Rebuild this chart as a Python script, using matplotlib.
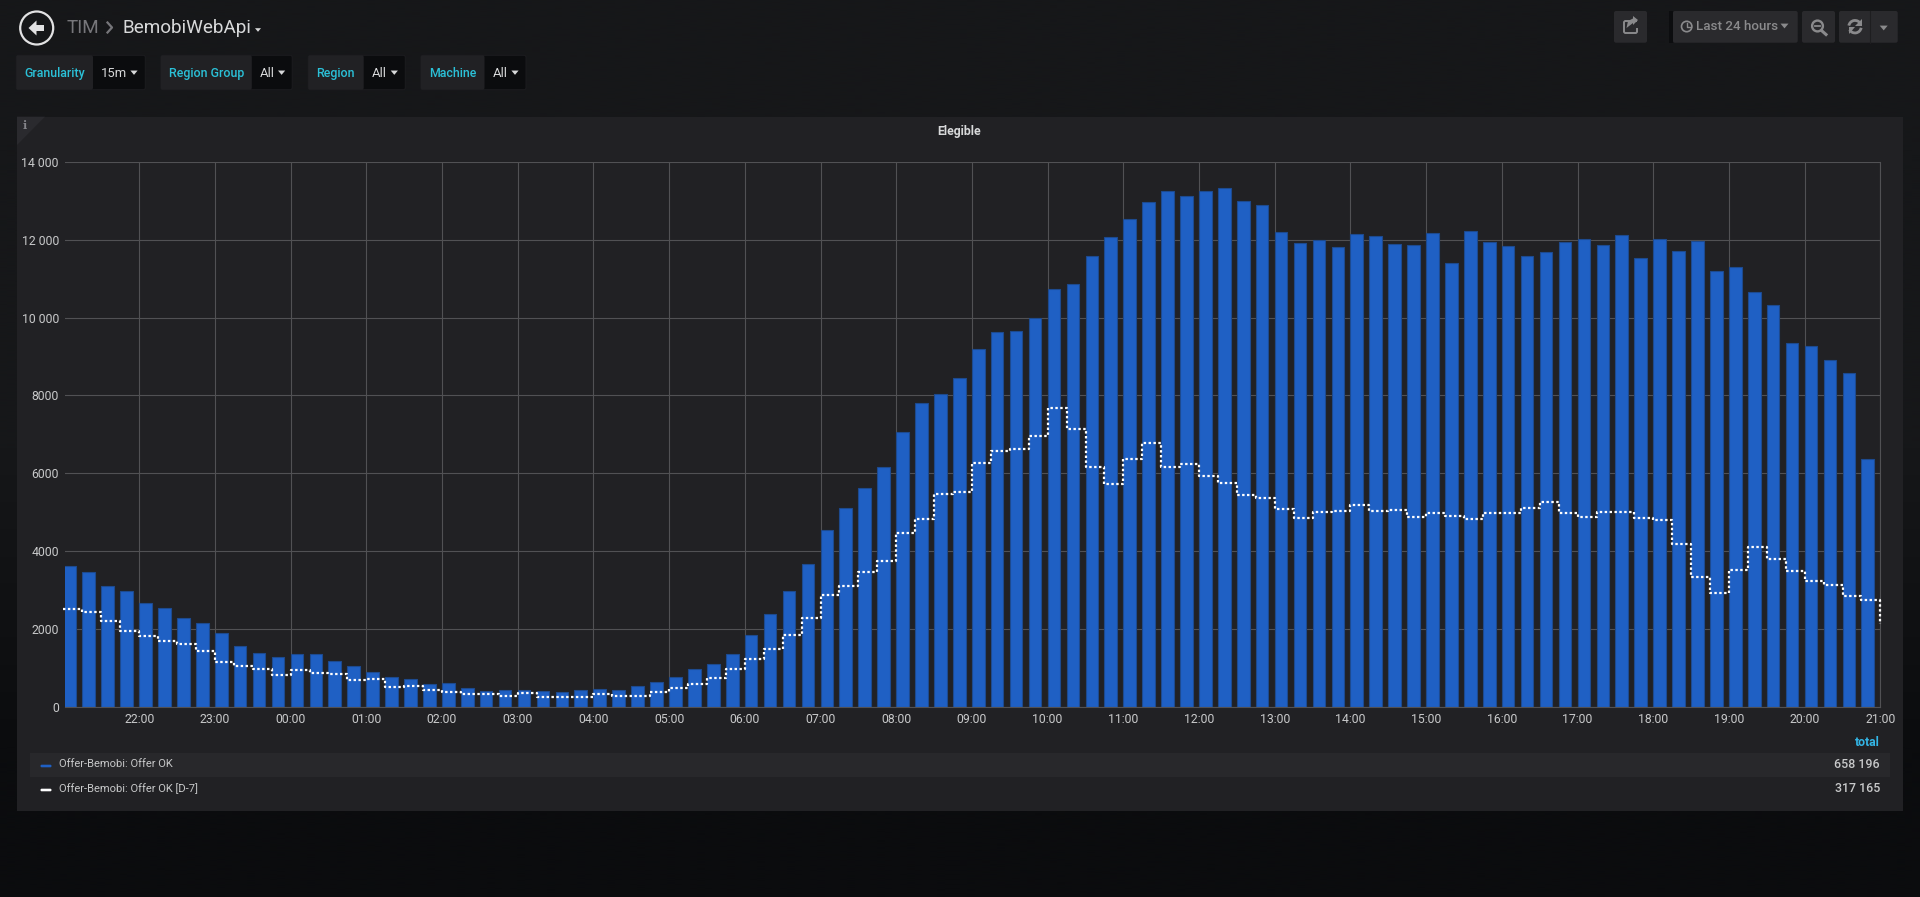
import numpy as np
import pandas as pd
import matplotlib
matplotlib.use('Agg')
import matplotlib.pyplot as plt
import matplotlib.dates as mdates
from matplotlib.patches import Arc, Circle, FancyBboxPatch, Polygon, Rectangle
from matplotlib.ticker import FuncFormatter, MultipleLocator

plt.rcParams['font.family'] = ['Roboto', 'DejaVu Sans']

W, H = 1920, 897

# values, one every 15 minutes from 21:00
offer_ok = [
    3615, 3470, 3111, 2983, 2675, 2530, 2273, 2145, 1880, 1555, 1367, 1273,
    1359, 1350, 1162, 1043, 889, 761, 709, 590, 598, 470, 393, 427,
    427, 402, 376, 427, 444, 427, 530, 624, 761, 966, 1094, 1342,
    1829, 2385, 2974, 3667, 4530, 5105, 5620, 6168, 7068, 7813, 8027, 8447,
    9193, 9621, 9655, 9981, 10735, 10864, 11575, 12072, 12535, 12963, 13246, 13117,
    13255, 13332, 12989, 12895, 12200, 11909, 12003, 11815, 12149, 12106, 11892, 11866,
    12166, 11395, 12226, 11943, 11841, 11575, 11678, 11935, 12021, 11858, 12115, 11524,
    12012, 11721, 11969, 11198, 11301, 10658, 10315, 9338, 9261, 8901, 8576, 6357,
]
# D-7 has one more point, the one at 21:00 at the right edge
offer_ok_d7 = [
    2514, 2420, 2189, 1949, 1821, 1676, 1599, 1419, 1137, 1043, 958, 804,
    949, 864, 829, 675, 701, 504, 522, 436, 368, 333, 325, 274,
    342, 248, 248, 239, 325, 282, 282, 376, 487, 590, 735, 957,
    1231, 1487, 1829, 2273, 2880, 3111, 3461, 3744, 4461, 4831, 5474, 5517,
    6271, 6579, 6631, 6965, 7676, 7136, 6159, 5714, 6365, 6785, 6151, 6245,
    5920, 5740, 5440, 5354, 5080, 4840, 4994, 5020, 5175, 5029, 5054, 4875,
    4977, 4891, 4823, 4968, 4977, 5097, 5268, 4985, 4875, 5003, 5003, 4857,
    4806, 4179, 3325, 2915, 3504, 4111, 3786, 3496, 3239, 3120, 2855, 2735,
    2120,
]
legend_names = ['Offer-Bemobi: Offer OK', 'Offer-Bemobi: Offer OK [D-7]']
legend_totals = ['658 196', '317 165']
variables = [
    ('Granularity', '15m', 16.3, 93, 145.3, 101, 134),
    ('Region Group', 'All', 160.8, 251.8, 292.2, 259.6, 281.6),
    ('Region', 'All', 308.2, 363.7, 405.3, 371.8, 394.3),
    ('Machine', 'All', 420.8, 484.5, 526, 493, 515),
]

TEXT = '#d8d9da'
CYAN = '#2bc1d8'
BLUE = '#1f60c4'
BTN = '#2a2a2d'
ICON = '#8a8a8c'

fig = plt.figure(figsize=(W / 100, H / 100), dpi=100)

# page layer, in pixels with y going down
bg = fig.add_axes([0, 0, 1, 1], zorder=0)
bg.set_xlim(0, W)
bg.set_ylim(H, 0)
bg.axis('off')
page = np.array([[0x16, 0x17, 0x19], [0x16, 0x17, 0x19], [0x0b, 0x0c, 0x0e]]) / 255
bg.imshow(page[:, None, :], extent=(0, W, H, 0), aspect='auto', interpolation='bilinear')
bg.set_xlim(0, W)
bg.set_ylim(H, 0)


def box(x0, x1, y0, y1, color, z=1, edge='none'):
    bg.add_patch(FancyBboxPatch((x0, y0), x1 - x0, y1 - y0, boxstyle='round,pad=0,rounding_size=2',
                                fc=color, ec=edge, lw=0.7, zorder=z))


def caret(x, y, size=4, color=TEXT):
    bg.add_patch(Polygon([(x - size, y - size * 0.6), (x + size, y - size * 0.6), (x, y + size * 0.6)],
                         fc=color, ec='none', zorder=4))


def label(x, y, s, size=8.6, color=TEXT, ha='left', weight='normal', family=None):
    bg.text(x, y, s, fontsize=size, color=color, ha=ha, va='center', fontweight=weight,
            family=family, zorder=5)


# header
bg.add_patch(Circle((36.7, 28), 16.5, fc='none', ec='#e2e2e3', lw=1.6, zorder=4))
bg.add_patch(Polygon([(28.5, 28), (36.5, 20.5), (36.5, 25), (44, 25), (44, 31), (36.5, 31), (36.5, 35.5)],
                     fc='#e2e2e3', ec='none', zorder=4))
label(67, 27.7, 'TIM', size=13.6, color='#76767a')
bg.plot([107.5, 112, 107.5], [22.5, 27.5, 32.5], color='#76767a', lw=1.6, zorder=4)
label(123, 27.7, 'BemobiWebApi', size=13.6)
caret(258, 30, size=3)

# template variables
for name, value, x0, x1, x2, value_x, caret_x in variables:
    box(x0, x2, 55.3, 89.7, '#0b0c0e', edge='#1c1c1f')
    box(x0, x1, 55.3, 89.7, '#212124')
    label(x0 + 8, 73.1, name, size=8.9, color=CYAN, weight='medium')
    label(value_x, 73.5, value, size=9.4)
    caret(caret_x, 72.7, size=3.6)

# top right buttons
box(1614, 1647, 11, 42.7, BTN)
box(1673, 1797.7, 11, 42.7, BTN)
box(1802, 1835, 11, 42.7, BTN)
box(1839, 1897.7, 11, 42.7, BTN)
bg.plot([1870, 1870], [11, 42.7], color='#1e1e20', lw=0.8, zorder=3)
bg.add_patch(Rectangle((1669, 11), 4, 31.7, fc='#0c0d0f', ec='none', zorder=1))
# share
bg.plot([1636, 1625, 1624, 1624, 1625, 1636, 1637, 1637], [21, 21, 22, 32, 33, 33, 32, 29], color=ICON, lw=1.4, zorder=4)
bg.add_patch(Polygon([(1638, 20), (1633, 16), (1633, 18.5), (1628, 21), (1626.5, 28), (1633, 23), (1633, 25)],
                     fc=ICON, ec='none', zorder=4))
# clock
bg.add_patch(Circle((1686.7, 26.5), 5.2, fc='none', ec=ICON, lw=1.2, zorder=4))
bg.plot([1686.7, 1686.7, 1689.5], [23, 27, 27], color=ICON, lw=1, zorder=4)
label(1696, 27, 'Last 24 hours', size=9.6, color=ICON, weight='medium')
caret(1784.5, 26, size=4, color=ICON)
# zoom out
bg.add_patch(Circle((1817.5, 26), 5.4, fc='none', ec=ICON, lw=1.7, zorder=4))
bg.plot([1815, 1820], [26, 26], color=ICON, lw=1.3, zorder=4)
bg.plot([1821.5, 1826], [30.5, 34.5], color=ICON, lw=2.2, zorder=4)
# refresh
bg.add_patch(Arc((1855, 26.7), 12.5, 12.5, theta1=190, theta2=330, ec=ICON, lw=2, zorder=4))
bg.add_patch(Arc((1855, 26.7), 12.5, 12.5, theta1=10, theta2=150, ec=ICON, lw=2, zorder=4))
bg.add_patch(Polygon([(1861.5, 19.5), (1861.5, 26), (1855, 26)], fc=ICON, ec='none', zorder=4))
bg.add_patch(Polygon([(1848.5, 34), (1848.5, 27.5), (1855, 27.5)], fc=ICON, ec='none', zorder=4))
caret(1883.7, 28, size=4, color=ICON)

# panel
bg.add_patch(Rectangle((17, 116.7), 1885.7, 694, fc='#212124', ec='none', zorder=1))
bg.add_patch(Polygon([(17, 116.7), (45, 116.7), (17, 145)], fc='#2a2a2e', ec='none', zorder=2))
label(24.7, 125.3, 'i', size=8, color='#85858a', ha='center', weight='bold', family='DejaVu Serif')
label(959, 131, 'Elegible', size=8.8, ha='center', weight='bold')

# legend
bg.add_patch(Rectangle((29.8, 753), 1860.2, 24, fc='#28282b', ec='none', zorder=2))
label(1880, 742.3, 'total', size=8.8, color='#33b5e5', ha='right', weight='bold')
legend_colors = [BLUE, 'white']
for i, name in enumerate(legend_names):
    y = 764.2 + i * 24
    bg.add_patch(FancyBboxPatch((40.5, y + 0.5), 11, 2.6, boxstyle='round,pad=0,rounding_size=1.2',
                                fc=legend_colors[i], ec='none', zorder=4))
    label(58.8, y, name, size=8.0, color='#c8c9ca')
    label(1880, y, legend_totals[i], size=8.9, color='#c8c9ca', ha='right', weight='medium')

# graph
ax = fig.add_axes([65 / W, 1 - 706.6 / H, (1880.4 - 65) / W, (706.6 - 161.9) / H], zorder=1)
ax.patch.set_alpha(0)

start = pd.Timestamp('2018-06-01 21:00')
bar_times = pd.date_range(start, periods=len(offer_ok), freq='15min')
line_times = pd.date_range(start, periods=len(offer_ok_d7), freq='15min')

ax.bar(bar_times, offer_ok, width=10 / 1440, align='edge', color=BLUE,
       edgecolor='#1d4a8f', linewidth=0.8, zorder=2)
ax.plot(line_times, offer_ok_d7, drawstyle='steps-post', color='white', lw=1.6,
        linestyle=(0, (1.1, 1.1)), clip_on=False, zorder=3)

ax.set_xlim(start + pd.Timedelta(minutes=1.2), start + pd.Timedelta(hours=24))
ax.set_ylim(0, 14000)
ax.xaxis.set_major_locator(mdates.HourLocator(interval=1))
ax.xaxis.set_major_formatter(mdates.DateFormatter('%H:%M'))
ax.yaxis.set_major_locator(MultipleLocator(2000))
ax.yaxis.set_major_formatter(FuncFormatter(lambda v, p: f'{v:,.0f}'.replace(',', ' ') if v >= 10000 else f'{v:.0f}'))
ax.grid(True, color='#515154', lw=0.8, zorder=0)
ax.set_axisbelow(True)
ax.tick_params(length=0, colors='#c8c9ca', labelsize=8.8)
ax.tick_params(axis='x', pad=4.8)
ax.tick_params(axis='y', pad=4.4)
for side in ['left', 'top']:
    ax.spines[side].set_visible(False)
for side in ['bottom', 'right']:
    ax.spines[side].set_color('#515154')
    ax.spines[side].set_linewidth(0.8)

fig.savefig('out.png', dpi=100)
